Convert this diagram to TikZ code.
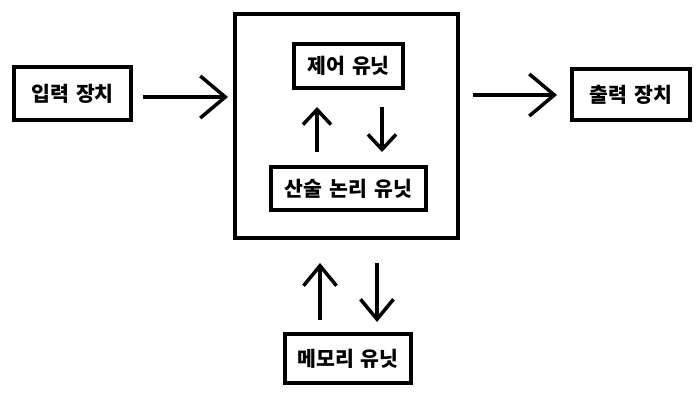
\documentclass[tikz,border=0pt]{standalone}
\usepackage{fontspec}
\setmainfont{Noto Sans CJK KR}[WordSpace=1.5]
\usetikzlibrary{arrows.meta}
\begin{document}
\begin{tikzpicture}[x=1pt,y=-1pt,
  box/.style={draw=black,line width=4pt,fill=white,inner sep=0pt,
    font=\bfseries\fontsize{20.5}{24}\selectfont},
  bigarr/.style={line width=3.5pt,-{Straight Barb[length=25pt,width=42pt]}},
  smallarr/.style={line width=3.5pt,-{Straight Barb[length=15pt,width=28pt]}},
  memarr/.style={line width=3.5pt,-{Straight Barb[length=20pt,width=33pt]}}]
\useasboundingbox[fill=white] (0,0) rectangle (700,400);
\node[box,minimum width=117pt,minimum height=53pt] (in) at (72.5,93.5) {입력 장치};
\node[box,minimum width=223pt,minimum height=224pt] (cpu) at (346.5,126) {};
\node[box,minimum width=109pt,minimum height=44pt] (cu) at (348.5,66) {제어 유닛};
\node[box,minimum width=155pt,minimum height=43pt] (alu) at (348.5,188.5) {산술 논리 유닛};
\node[box,minimum width=118pt,minimum height=51pt] (out) at (631,94.5) {출력 장치};
\node[box,minimum width=126pt,minimum height=49pt] (mem) at (348,358.5) {메모리 유닛};
\draw[bigarr,shorten <=10pt,shorten >=5pt] ([yshift=-3.5pt]in.east) -- ([yshift=29pt]cpu.west);
\draw[bigarr,shorten <=13pt,shorten >=13pt] ([yshift=31pt]cpu.east) -- ([yshift=-0.5pt]out.west);
\draw[smallarr,shorten <=13pt,shorten >=17pt] ([xshift=-31.5pt]alu.north) -- ([xshift=-31.5pt]cu.south);
\draw[smallarr,shorten <=17pt,shorten >=13pt] ([xshift=33.5pt]cu.south) -- ([xshift=33.5pt]alu.north);
\draw[memarr,shorten <=12pt,shorten >=23pt] ([xshift=-28pt]mem.north) -- ([xshift=-26.5pt]cpu.south);
\draw[memarr,shorten <=23pt,shorten >=10pt] ([xshift=30.5pt]cpu.south) -- ([xshift=29pt]mem.north);
\end{tikzpicture}
\end{document}
